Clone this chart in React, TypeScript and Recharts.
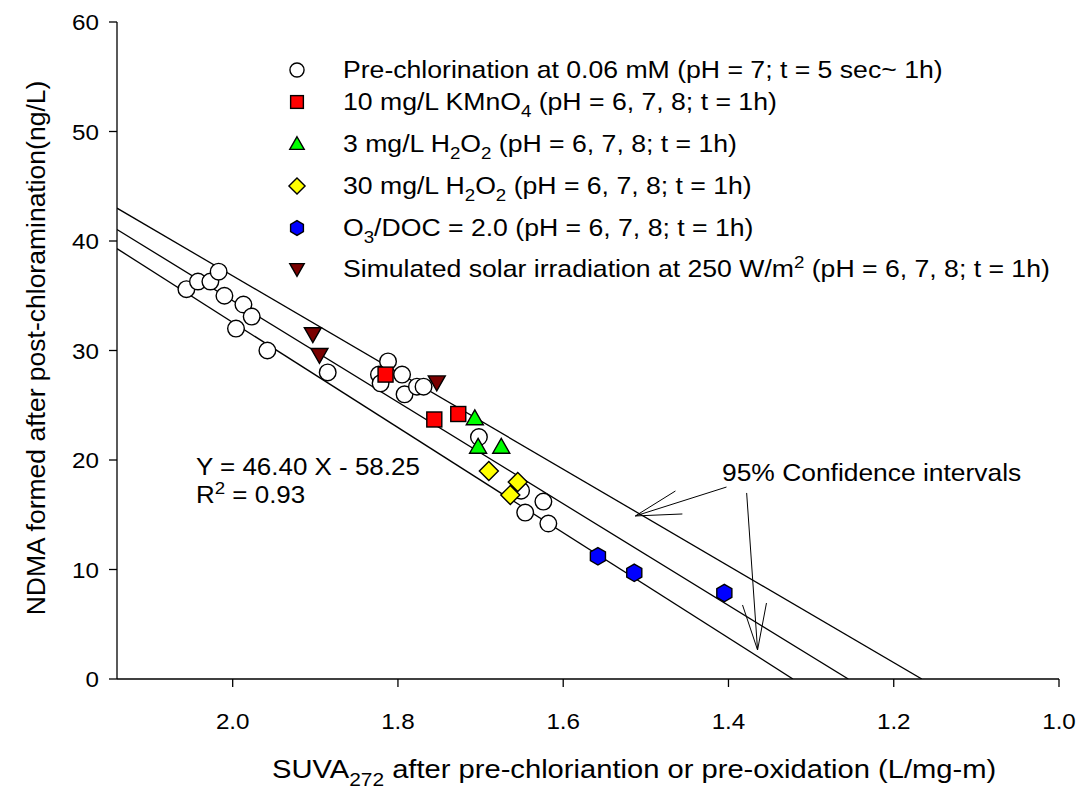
import React from 'react';
import { ComposedChart, Scatter, XAxis, YAxis, ReferenceLine, Customized } from 'recharts';

const FONT = 'Arial, "Liberation Sans", sans-serif';
const STRETCH = 1.1;

// SUVA (x) vs NDMA (y) for each treatment
const preChlorination = [
  { x: 2.056, y: 35.6 }, { x: 2.042, y: 36.3 }, { x: 2.027, y: 36.3 }, { x: 2.017, y: 37.2 },
  { x: 2.01, y: 35.0 }, { x: 1.987, y: 34.2 }, { x: 1.977, y: 33.1 }, { x: 1.996, y: 32.0 },
  { x: 1.958, y: 30.0 }, { x: 1.885, y: 28.0 }, { x: 1.812, y: 29.0 }, { x: 1.823, y: 27.8 },
  { x: 1.821, y: 27.0 }, { x: 1.795, y: 27.8 }, { x: 1.792, y: 26.0 }, { x: 1.777, y: 26.7 },
  { x: 1.769, y: 26.7 }, { x: 1.702, y: 22.1 }, { x: 1.651, y: 17.2 }, { x: 1.624, y: 16.2 },
  { x: 1.646, y: 15.2 }, { x: 1.618, y: 14.2 },
];
const kmno4 = [{ x: 1.815, y: 27.8 }, { x: 1.756, y: 23.7 }, { x: 1.727, y: 24.2 }];
const h2o2Low = [{ x: 1.707, y: 23.8 }, { x: 1.703, y: 21.2 }, { x: 1.675, y: 21.2 }];
const h2o2High = [{ x: 1.69, y: 19.0 }, { x: 1.655, y: 18.0 }, { x: 1.664, y: 16.8 }];
const ozone = [{ x: 1.558, y: 11.2 }, { x: 1.514, y: 9.7 }, { x: 1.405, y: 7.85 }];
const solar = [{ x: 1.903, y: 31.5 }, { x: 1.895, y: 29.6 }, { x: 1.753, y: 27.1 }];

// regression line and 95% confidence bounds (end points)
const fitLine = [{ x: 2.14, y: 41.05 }, { x: 1.255, y: 0 }];
const upperCI = [{ x: 2.14, y: 43.0 }, { x: 1.166, y: 0 }];
const lowerCI = [{ x: 2.14, y: 39.3 }, { x: 1.322, y: 0 }];

// annotation arrows (segments, data units)
const arrowSegments = [
  [{ x: 1.4024, y: 17.53 }, { x: 1.5127, y: 14.89 }],
  [{ x: 1.5127, y: 14.89 }, { x: 1.4642, y: 17.17 }],
  [{ x: 1.5127, y: 14.89 }, { x: 1.4558, y: 15.07 }],
  [{ x: 1.378, y: 16.99 }, { x: 1.3648, y: 2.65 }],
  [{ x: 1.3648, y: 2.65 }, { x: 1.383, y: 6.76 }],
  [{ x: 1.3648, y: 2.65 }, { x: 1.354, y: 6.94 }],
];

const xTicks = [2.0, 1.8, 1.6, 1.4, 1.2, 1.0];
const yTicks = [0, 10, 20, 30, 40, 50, 60];

const SW = 1.4;

const circle = (cx: number, cy: number, s = 1) => (
  <circle cx={cx} cy={cy} r={8.3 * s} fill="#fff" stroke="#000" strokeWidth={SW} />
);
const square = (cx: number, cy: number, s = 1) => (
  <rect x={cx - 7.5 * s} y={cy - 7.5 * s} width={15 * s} height={15 * s} fill="#ff0000" stroke="#000" strokeWidth={SW} />
);
const triUp = (cx: number, cy: number, s = 1) => {
  const h = 8.5 * s;
  return <polygon points={`${cx},${cy - h} ${cx + h},${cy + h * 0.75} ${cx - h},${cy + h * 0.75}`} fill="#00ff00" stroke="#000" strokeWidth={SW} />;
};
const triDown = (cx: number, cy: number, s = 1) => {
  const h = 8.5 * s;
  return <polygon points={`${cx - h},${cy - h * 0.75} ${cx + h},${cy - h * 0.75} ${cx},${cy + h}`} fill="#7a0000" stroke="#000" strokeWidth={SW} />;
};
const diamond = (cx: number, cy: number, s = 1) => {
  const h = 9.5 * s;
  return <polygon points={`${cx},${cy - h} ${cx + h},${cy} ${cx},${cy + h} ${cx - h},${cy}`} fill="#ffff00" stroke="#000" strokeWidth={SW} />;
};
const hexagon = (cx: number, cy: number, s = 1) => {
  const r = 8.7 * s;
  const pts = [0, 1, 2, 3, 4, 5]
    .map((i) => {
      const a = (Math.PI / 3) * i - Math.PI / 2;
      return `${cx + r * Math.cos(a)},${cy + r * Math.sin(a)}`;
    })
    .join(' ');
  return <polygon points={pts} fill="#0000ff" stroke="#000" strokeWidth={SW} />;
};

const shapeOf = (fn: (cx: number, cy: number, s?: number) => React.ReactElement) => (p: any) => fn(p.cx, p.cy);
const noDot = () => <g />;

// text stretched a little sideways, like the source figure
const Wide = ({ x, y, size, anchor = 'start', children }: any) => (
  <text
    transform={`translate(${x} ${y}) scale(${STRETCH} 1)`}
    fontSize={size}
    textAnchor={anchor}
    fontFamily={FONT}
    fill="#000"
  >
    {children}
  </text>
);

const XTick = ({ x, y, payload }: any) => (
  <Wide x={x} y={y + 16} size={22} anchor="middle">{Number(payload.value).toFixed(1)}</Wide>
);
const YTick = ({ x, y, payload }: any) => (
  <Wide x={x} y={y + 8} size={22} anchor="end">{payload.value}</Wide>
);

const sub = (t: string) => [
  <tspan key="a" fontSize={17} dy={7}>{t}</tspan>,
];

const legendRows: { sym: (cx: number, cy: number, s?: number) => React.ReactElement; y: number; text: React.ReactNode }[] = [
  { sym: circle, y: 78, text: <>Pre-chlorination at 0.06 mM (pH = 7; t = 5 sec~ 1h)</> },
  {
    sym: square,
    y: 110,
    text: <>10 mg/L KMnO{sub('4')}<tspan dy={-7}> (pH = 6, 7, 8; t = 1h)</tspan></>,
  },
  {
    sym: triUp,
    y: 152,
    text: <>3 mg/L H{sub('2')}<tspan dy={-7}>O</tspan>{sub('2')}<tspan dy={-7}> (pH = 6, 7, 8; t = 1h)</tspan></>,
  },
  {
    sym: diamond,
    y: 194,
    text: <>30 mg/L H{sub('2')}<tspan dy={-7}>O</tspan>{sub('2')}<tspan dy={-7}> (pH = 6, 7, 8; t = 1h)</tspan></>,
  },
  {
    sym: hexagon,
    y: 236,
    text: <>O{sub('3')}<tspan dy={-7}>/DOC = 2.0 (pH = 6, 7, 8; t = 1h)</tspan></>,
  },
  {
    sym: triDown,
    y: 277,
    text: <>Simulated solar irradiation at 250 W/m<tspan fontSize={17} dy={-9}>2</tspan><tspan dy={9}> (pH = 6, 7, 8; t = 1h)</tspan></>,
  },
];

const Overlay = () => (
  <g>
    <text
      x={36}
      y={348}
      fontSize={26.5}
      fontFamily={FONT}
      textAnchor="middle"
      dominantBaseline="central"
      transform="rotate(-90 36 348)"
    >
      NDMA formed after post-chloramination(ng/L)
    </text>
    <Wide x={272} y={778} size={26.5}>
      SUVA<tspan fontSize={19} dy={8}>272</tspan>
      <tspan dy={-8}> after pre-chloriantion or pre-oxidation (L/mg-m)</tspan>
    </Wide>
    {legendRows.map((r, i) => (
      <g key={i}>
        {r.sym(297, r.y - 8, 0.85)}
        <Wide x={343} y={r.y} size={24.2}>{r.text}</Wide>
      </g>
    ))}
    <Wide x={196} y={475} size={23.6}>Y = 46.40 X - 58.25</Wide>
    <Wide x={196} y={503} size={23.6}>
      R<tspan fontSize={17} dy={-9}>2</tspan><tspan dy={9}> = 0.93</tspan>
    </Wide>
    <Wide x={722} y={481} size={24}>95% Confidence intervals</Wide>
  </g>
);

export default function App() {
  return (
    <div style={{ position: 'absolute', left: 0, top: 0, background: '#fff' }}>
      <ComposedChart width={1081} height={793} margin={{ top: 22, right: 22, left: 0, bottom: 0 }}>
        <XAxis
          type="number"
          dataKey="x"
          domain={[1.0, 2.14]}
          reversed
          allowDataOverflow
          ticks={xTicks}
          tickSize={8}
          tickMargin={26}
          height={114}
          axisLine={{ stroke: '#000', strokeWidth: 1.3 }}
          tickLine={{ stroke: '#000', strokeWidth: 1.3 }}
          tick={<XTick />}
        />
        <YAxis
          type="number"
          dataKey="y"
          domain={[0, 60]}
          allowDataOverflow
          ticks={yTicks}
          tickSize={8}
          tickMargin={10}
          width={117}
          axisLine={{ stroke: '#000', strokeWidth: 1.3 }}
          tickLine={{ stroke: '#000', strokeWidth: 1.3 }}
          tick={<YTick />}
        />
        <Scatter data={upperCI} line={{ stroke: '#000', strokeWidth: 1.3 }} shape={noDot} isAnimationActive={false} />
        <Scatter data={fitLine} line={{ stroke: '#000', strokeWidth: 1.3 }} shape={noDot} isAnimationActive={false} />
        <Scatter data={lowerCI} line={{ stroke: '#000', strokeWidth: 1.3 }} shape={noDot} isAnimationActive={false} />
        {arrowSegments.map((seg, i) => (
          <ReferenceLine key={i} segment={seg} stroke="#000" strokeWidth={1} ifOverflow="visible" />
        ))}
        <Scatter data={preChlorination} shape={shapeOf(circle)} isAnimationActive={false} />
        <Scatter data={kmno4} shape={shapeOf(square)} isAnimationActive={false} />
        <Scatter data={h2o2Low} shape={shapeOf(triUp)} isAnimationActive={false} />
        <Scatter data={h2o2High} shape={shapeOf(diamond)} isAnimationActive={false} />
        <Scatter data={ozone} shape={shapeOf(hexagon)} isAnimationActive={false} />
        <Scatter data={solar} shape={shapeOf(triDown)} isAnimationActive={false} />
        <Customized component={Overlay} />
      </ComposedChart>
    </div>
  );
}
